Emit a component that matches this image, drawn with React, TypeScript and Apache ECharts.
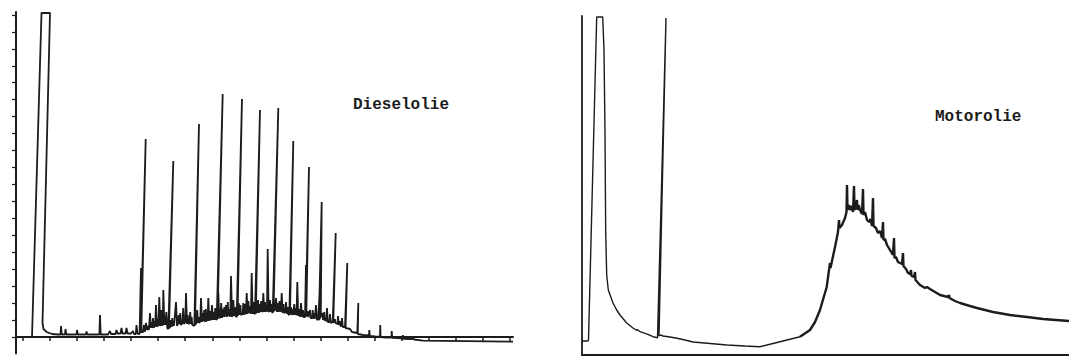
import React, { useEffect, useRef } from "react";
import * as echarts from "echarts";

// Chart-strip units: x = position along the recorder strip, y = detector signal (baseline = 0 on left chart)
const dieselTrace: [number, number][] = [
  [16, 0], [32, 0], [41.5, 324], [50, 324], [42.5, 14], [43.5, 8], [46.7, 5], [52, 3], [58, 2.5],
  [60.5, 2.5], [61, 11], [61.8, 2.5],
  [65, 2.5], [65.5, 8], [66.3, 2.5],
  [76.5, 2.5], [77, 7], [77.8, 2.5],
  [86, 2.5], [86.5, 5.5], [87.3, 2.5],
  [99.4, 2.5], [100, 22], [100.7, 2.5],
  [108, 2.5], [110, 6], [111, 3],
  [115.5, 3], [116.5, 7], [117.5, 3.5],
  [120.5, 3.5], [121.5, 9], [122.5, 3.5],
  [125.5, 3.5], [126.5, 9], [127.5, 3.5],
  [131, 3.5], [133, 6], [134, 3],
  [135.8, 3], [136.5, 12], [137.5, 3.5],
  [139.6, 3], [141, 69], [141.3, 6], [145.7, 198], [140.8, 5],
  [143, 5], [144, 12], [144.8, 5], [146, 14], [147, 7], [148, 11], [148.6, 7],
  [149, 8], [150, 24], [151, 9], [151.8, 15], [152.2, 9],
  [152.5, 10], [153, 19], [154, 9], [154.7, 16], [155.1, 10],
  [155.5, 10], [156, 32], [157, 10], [157.6, 18], [158, 11],
  [158.5, 12], [159.3, 40], [160.2, 11],
  [161, 13], [161.5, 27], [162.4, 11],
  [162.8, 14], [163.3, 47], [164.4, 12], [165, 20], [165.4, 12],
  [165.8, 12], [166.3, 25], [167.3, 9],
  [168.3, 8], [173.3, 176], [169, 9],
  [170, 10], [170.5, 17], [171.5, 10], [172.3, 19], [172.8, 11], [173.6, 16], [174, 11],
  [174.5, 11], [176, 35], [177, 11],
  [178, 14], [178.7, 22], [179.3, 13],
  [179.8, 14], [180.3, 24], [181, 12],
  [182.5, 14], [183.2, 29], [184, 13],
  [185.3, 15], [186, 44], [187, 13], [187.8, 22], [188.3, 13],
  [189.5, 14], [190.2, 25], [191, 13], [191.7, 20], [192.2, 12],
  [193, 12], [194.3, 11], [199, 213], [195, 12],
  [196.5, 14], [197.2, 27], [198, 14], [198.8, 20], [199.3, 14],
  [200.3, 16], [201, 39], [202, 15], [202.7, 24], [203.1, 16],
  [203.5, 17], [204.2, 27], [205, 15], [205.8, 28], [206.3, 16],
  [207.6, 17], [208.3, 39], [209.3, 16], [210.2, 26], [210.7, 17],
  [211.3, 18], [212, 32], [213, 17], [214, 25], [214.5, 17], [215.3, 29], [215.8, 18],
  [216.7, 17], [222.7, 243], [217.5, 18],
  [217.8, 20], [218.3, 45], [219.3, 19],
  [220.5, 20], [221.2, 34], [222, 19], [223, 28], [223.5, 20], [224.3, 30], [224.8, 20],
  [225.3, 20], [226, 32], [227, 20], [227.8, 35], [228.3, 21], [229, 28], [229.5, 21],
  [230.3, 21], [231, 61], [232, 20],
  [232.6, 22], [233.3, 37], [234.2, 21], [235, 30], [235.5, 21],
  [236.7, 20], [242, 238], [237.5, 21],
  [238, 23], [238.7, 34], [239.6, 22], [240.4, 32], [240.9, 22],
  [242.6, 23], [243.3, 34], [244.2, 22], [245, 33], [245.5, 23],
  [246, 24], [246.7, 44], [247.6, 23], [248.4, 36], [248.9, 24], [249.7, 31], [250.2, 24],
  [251, 24], [251.7, 64], [252.6, 23], [253.4, 35], [253.9, 24],
  [255, 23], [260, 227], [255.8, 24],
  [257.3, 25], [258, 37], [259, 24], [259.8, 33], [260.3, 25], [261.2, 36], [261.7, 25],
  [262.6, 26], [263.3, 44], [264.2, 25], [265, 35], [265.5, 26],
  [267, 26], [267.7, 88], [268.6, 25],
  [269.4, 26], [270, 37], [271, 25], [271.6, 33], [272, 25],
  [272.7, 24], [278.3, 229], [273.5, 25],
  [274.3, 32], [274.8, 26],
  [275.4, 26], [276, 39], [277, 25], [278, 34], [278.6, 25], [279.5, 36], [280, 26],
  [281, 26], [281.7, 44], [282.6, 24], [283.5, 33], [284, 24],
  [285.4, 25], [286, 35], [287, 23], [287.8, 30], [288.3, 23],
  [289.3, 22], [293.3, 196], [290, 23],
  [291, 30], [291.5, 22], [292.5, 28], [293, 22], [294.3, 33], [294.8, 22], [295.6, 29], [296, 22],
  [296.6, 23], [297.3, 55], [298.2, 21], [299, 28], [299.5, 21],
  [300.4, 21], [301, 34], [302, 20], [303, 27], [303.5, 20],
  [305, 20], [306, 72], [306.3, 22], [309, 170], [305.6, 20],
  [307.5, 26], [308, 20], [310, 27], [310.5, 19],
  [312, 19], [312.7, 27], [313.5, 18], [314.3, 24], [314.8, 18],
  [315.4, 18], [316, 32], [317, 17],
  [318.3, 18], [320.5, 64], [320.8, 20], [321.7, 135], [318.9, 17],
  [322.5, 24], [323, 17], [324.3, 25], [324.8, 17],
  [326.4, 16], [327, 29], [327.8, 15],
  [329.4, 15], [330, 23], [330.8, 14],
  [332.7, 15], [335.7, 104], [333.3, 14],
  [335, 18], [335.5, 14], [337.5, 13], [338, 21], [338.8, 12], [340, 16], [340.5, 11],
  [341.4, 11], [342, 19], [342.8, 10],
  [345, 10], [347.3, 74], [345.6, 9],
  [350, 8], [352, 5], [357.3, 4], [358.3, 34], [357.8, 3],
  [363, 2], [369, 1.5], [369.3, 7], [369.8, 1],
  [375, 0.5], [380, 0.3], [380.2, 12], [380.6, 0],
  [386, -0.5], [391.5, -0.5], [391.7, 6], [392.2, -0.8],
  [398, -1], [402.6, -1.5], [402.8, 2], [403.3, -1.8],
  [410, -2], [413, -1.8], [413.4, -0.5], [414, -2.5],
  [423, -3.7], [513, -4.7],
];

const motorSolventTrace: [number, number][] = [
  [582, 14], [588, 14], [588.5, 15], [596.7, 338], [602.7, 338],
  [603.3, 338], [604, 305], [605, 222], [605.7, 122], [606.7, 80], [608.3, 65],
  [613, 52], [616.7, 45], [620, 40], [626.7, 32], [633, 27], [636.7, 24.5], [637.2, 25.5],
  [640, 23.3], [648, 20.7], [653, 18.3], [657.5, 17.3], [666, 337], [659, 19],
  [660.7, 20], [663, 19], [670, 18], [677, 16.7], [685, 15], [693, 13],
  [710, 11.5], [727, 10], [745, 9], [760, 8.3], [780, 13.3], [800, 18.3],
];

const motorHumpTrace: [number, number][] = [
  [800, 18.3], [810, 25], [815, 33], [820, 45], [826.7, 68],
  [829, 85], [830, 92], [830.5, 87], [835, 108],
  [838, 123], [839, 135], [839.5, 127], [842, 130], [845, 137],
  [846.5, 143], [847, 170], [847.5, 145], [849, 150], [850, 145],
  [851.5, 149], [853, 143], [854, 169], [854.5, 145],
  [856, 149], [857, 155], [857.5, 145], [858.7, 150], [860, 145],
  [862, 141], [863, 166], [863.5, 140], [865, 143], [867, 135], [869, 133],
  [870.5, 136], [872, 129], [873, 157], [873.5, 129], [876, 127], [878, 122],
  [880, 124], [882, 117], [883, 133], [883.5, 115], [885, 116], [887, 110], [890, 105],
  [893, 100], [894, 117], [894.5, 97], [896, 98], [898, 93],
  [902, 91], [903, 102], [903.5, 89], [906, 86], [908, 82],
  [910, 81], [911, 85], [911.5, 79],
  [914, 78], [915, 83], [915.5, 75], [920, 70], [925, 67], [927, 68], [930, 66],
  [935, 63], [940, 60], [948, 58], [949, 60], [949.5, 57], [955, 54],
  [960, 52], [970, 49], [977, 47], [993, 43], [1010, 40], [1027, 38],
  [1043, 36], [1069, 34],
];

const leftXTicks = [23, 50, 77, 104, 131, 158, 185, 213, 240, 267, 294, 321, 348, 375, 402, 429, 456, 483, 510];
const leftYTicks = [0, 17, 33.9, 50.9, 67.8, 84.8, 101.7, 118.7, 135.6, 152.6, 169.5, 186.5, 203.4, 220.4, 237.3, 254.3, 271.2, 288.2, 305.1, 322.1];

const panelLabels = ["Dieselolie", "Motorolie"];

const INK = "#1c1c1c";

export default function App() {
  const ref = useRef<HTMLDivElement>(null);
  useEffect(() => {
    if (!ref.current) return;
    const chart = echarts.init(ref.current, undefined, { renderer: "svg" });
    const axisLine = { show: true, lineStyle: { color: INK, width: 2 } };
    chart.setOption({
      animation: false,
      backgroundColor: "#ffffff",
      grid: [
        { left: 16, right: 1069 - 513, top: 12, bottom: 3.5 },
        { left: 582, right: 0, top: 16, bottom: 2 },
      ],
      xAxis: [
        {
          type: "value", gridIndex: 0, min: 16, max: 513,
          axisLine, splitLine: { show: false },
          axisTick: { show: true, length: 4, customValues: leftXTicks, lineStyle: { color: INK, width: 1.5 } },
          axisLabel: { show: false },
        },
        {
          type: "value", gridIndex: 1, min: 582, max: 1069,
          axisLine: { show: true, lineStyle: { color: INK, width: 1.8 } }, splitLine: { show: false },
          axisTick: { show: false }, axisLabel: { show: false },
        },
      ],
      yAxis: [
        {
          type: "value", gridIndex: 0, min: -16.5, max: 325,
          axisLine, splitLine: { show: false },
          axisTick: { show: true, length: 4, customValues: leftYTicks, lineStyle: { color: INK, width: 1.2 } },
          axisLabel: { show: false },
        },
        {
          type: "value", gridIndex: 1, min: 0, max: 339,
          axisLine: { show: true, lineStyle: { color: INK, width: 1.8 } }, splitLine: { show: false },
          axisTick: { show: false }, axisLabel: { show: false },
        },
      ],
      series: [
        {
          type: "line", xAxisIndex: 0, yAxisIndex: 0, data: dieselTrace,
          showSymbol: false, symbol: "none", clip: false,
          lineStyle: { color: INK, width: 1.8 },
        },
        {
          type: "line", xAxisIndex: 1, yAxisIndex: 1, data: motorSolventTrace,
          showSymbol: false, symbol: "none", clip: false,
          lineStyle: { color: INK, width: 1.4 },
        },
        {
          type: "line", xAxisIndex: 1, yAxisIndex: 1, data: motorHumpTrace,
          showSymbol: false, symbol: "none", clip: false,
          lineStyle: { color: INK, width: 2.4 },
        },
      ],
      graphic: [
        {
          type: "text", left: 353, top: 97,
          style: { text: panelLabels[0], font: "bold 16px 'Liberation Mono', monospace", fill: INK },
        },
        {
          type: "text", left: 935, top: 109,
          style: { text: panelLabels[1], font: "bold 16px 'Liberation Mono', monospace", fill: INK },
        },
      ],
    });
    return () => chart.dispose();
  }, []);
  return (
    <div
      ref={ref}
      style={{ position: "fixed", left: 0, top: 0, width: 1069, height: 357, background: "#fff" }}
    />
  );
}
